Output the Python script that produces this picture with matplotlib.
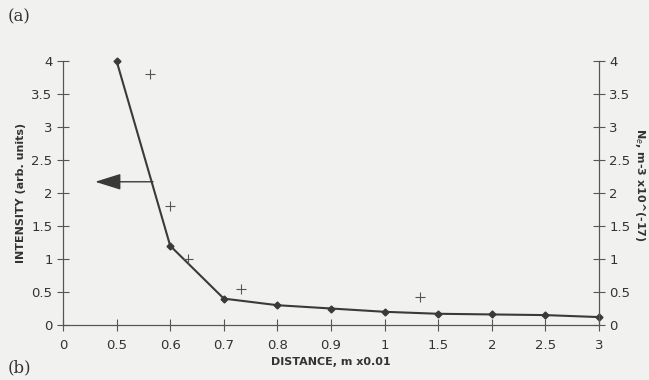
import numpy as np
import matplotlib
matplotlib.use("Agg")
import matplotlib.pyplot as plt

# x categories (equally spaced on the plot)
dist_labels = ["0", "0.5", "0.6", "0.7", "0.8", "0.9", "1", "1.5", "2", "2.5", "3"]
dist_vals = [0, 0.5, 0.6, 0.7, 0.8, 0.9, 1.0, 1.5, 2.0, 2.5, 3.0]

# intensity line (left axis)
int_dist = [0.5, 0.6, 0.7, 0.8, 0.9, 1.0, 1.5, 2.0, 2.5, 3.0]
intensity = [4.0, 1.2, 0.4, 0.3, 0.25, 0.2, 0.17, 0.16, 0.15, 0.12]

# electron density points (right axis)
ne_dist = [0.562, 0.6, 0.633, 0.733, 1.33]
ne = [3.8, 1.8, 1.0, 0.55, 0.42]

# arrow marking which axis the line belongs to
arrow_y = 2.17
arrow_from, arrow_to = 0.568, 0.3

pos = np.arange(len(dist_vals))
to_pos = lambda d: np.interp(d, dist_vals, pos)

plt.rcParams["font.family"] = ["DejaVu Sans"]
ink = "#3a3a3a"

fig = plt.figure(figsize=(6.49, 3.8), dpi=100, facecolor="#f1f1ef")
ax = fig.add_axes([63/649, 1-325/380, (599-63)/649, (325-61)/380])
ax.set_facecolor("none")
ax2 = ax.twinx()

ax.plot(to_pos(int_dist), intensity, color=ink, lw=1.5, marker="D", ms=3.5,
        zorder=3, clip_on=False)
ax2.plot(to_pos(ne_dist), ne, ls="none", marker="+", ms=7, mew=0.8, color="#555555")
ax.annotate("", xy=(to_pos(arrow_to), arrow_y), xytext=(to_pos(arrow_from), arrow_y),
            arrowprops=dict(arrowstyle="-|>,head_length=1.6,head_width=0.5",
                            color=ink, lw=1.0, shrinkA=0, shrinkB=0))

for a in (ax, ax2):
    a.set_ylim(0, 4)
    a.set_yticks(np.arange(0, 4.01, 0.5))
    a.set_yticklabels([f"{v:g}" for v in np.arange(0, 4.01, 0.5)])
    for s in a.spines.values():
        s.set_color("#555555")
    a.spines["top"].set_visible(False)
    a.tick_params(direction="inout", length=8, width=0.8, colors="#555555",
                  labelcolor="#333333", labelsize=9.5)
ax.set_xlim(0, len(dist_vals) - 1)
ax.set_xticks(pos)
ax.set_xticklabels(dist_labels)
ax.tick_params(axis="x", pad=6)

ax.set_xlabel("DISTANCE, m x0.01", fontsize=8, fontweight="bold", color="#333333", labelpad=4)
ax.set_ylabel("INTENSITY (arb. units)", fontsize=8, fontweight="bold", color="#333333", labelpad=4)
ax2.set_ylabel("N$_e$, m-3 x10^(-17)", fontsize=8, fontweight="bold", color="#333333",
               rotation=-90, labelpad=12)
ax2.yaxis.label.set_y(0.53)

fig.text(8/649, 1-17/380, "(a)", family="DejaVu Serif", fontsize=12, color="#333333", va="center")
fig.text(8/649, 1-368/380, "(b)", family="DejaVu Serif", fontsize=12, color="#333333", va="center")

fig.savefig("out.png", dpi=100, facecolor=fig.get_facecolor())
